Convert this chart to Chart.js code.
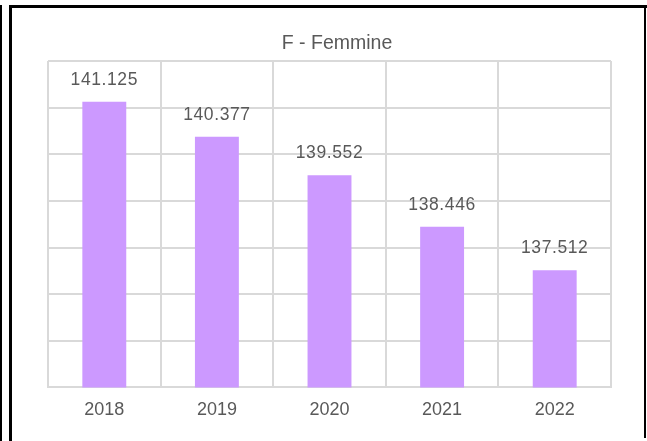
<!DOCTYPE html>
<html>
<head>
<meta charset="utf-8">
<script src="https://cdn.jsdelivr.net/npm/chart.js@4"></script>
<style>
  html, body { margin: 0; padding: 0; background: #fff; }
  #wrap { position: relative; width: 647px; height: 441px; overflow: hidden; }
  canvas { position: absolute; left: 0; top: 0; }
  .riga { position: absolute; background: #000; }
</style>
</head>
<body>
<div id="wrap">
  <canvas id="grafico" width="647" height="441"></canvas>
  <div class="riga" style="left:0;top:5px;width:2px;height:436px"></div>
  <div class="riga" style="left:9px;top:5px;width:3px;height:436px"></div>
  <div class="riga" style="left:9px;top:5px;width:638px;height:3px"></div>
  <div class="riga" style="left:644px;top:5px;width:2px;height:433px"></div>
</div>
<script>
const anni = ['2018', '2019', '2020', '2021', '2022'];
const femmine = [141125, 140377, 139552, 138446, 137512];
const titolo = 'F - Femmine';
const asseMin = 135000;
const asseMax = 142000;
const passo = 1000;

const coloreTesto = '#595959';
const coloreGriglia = '#d9d9d9';

const formatta = (v) => String(v).replace(/\B(?=(\d{3})+(?!\d))/g, '.');

const etichetteDati = {
  id: 'etichetteDati',
  afterDatasetsDraw(chart) {
    const ctx = chart.ctx;
    const meta = chart.getDatasetMeta(0);
    ctx.save();
    ctx.font = '17.5px "Liberation Sans", Arial, sans-serif';
    ctx.fillStyle = coloreTesto;
    ctx.textAlign = 'center';
    ctx.textBaseline = 'middle';
    if ('letterSpacing' in ctx) ctx.letterSpacing = '0.6px';
    meta.data.forEach((bar, i) => {
      ctx.fillText(formatta(femmine[i]), bar.x, bar.y - 22);
    });
    ctx.restore();
  }
};

const titoloGrafico = {
  id: 'titoloGrafico',
  afterDraw(chart) {
    const ctx = chart.ctx;
    ctx.save();
    ctx.font = '19.5px "Liberation Sans", Arial, sans-serif';
    ctx.fillStyle = coloreTesto;
    ctx.textAlign = 'center';
    ctx.textBaseline = 'middle';
    ctx.fillText(titolo, 337, 44);
    ctx.restore();
  }
};

const ctx = document.getElementById('grafico').getContext('2d');

new Chart(ctx, {
  type: 'bar',
  data: {
    labels: anni,
    datasets: [{
      label: titolo,
      data: femmine,
      backgroundColor: '#cc99ff',
      borderWidth: 0,
      barPercentage: 0.39,
      categoryPercentage: 1
    }]
  },
  options: {
    responsive: false,
    animation: false,
    layout: { padding: { left: 48, right: 36, top: 61, bottom: 8 } },
    plugins: {
      legend: { display: false },
      title: { display: false },
      tooltip: { enabled: false }
    },
    scales: {
      x: {
        grid: { color: coloreGriglia, lineWidth: 2, drawTicks: false, offset: true },
        border: { color: coloreGriglia, width: 2 },
        ticks: {
          color: coloreTesto,
          padding: 12,
          font: { family: '"Liberation Sans", Arial, sans-serif', size: 18 }
        }
      },
      y: {
        min: asseMin,
        max: asseMax,
        grid: { color: coloreGriglia, lineWidth: 2, drawTicks: false },
        border: { display: false },
        ticks: { display: false, stepSize: passo }
      }
    }
  },
  plugins: [etichetteDati, titoloGrafico]
});
</script>
</body>
</html>
